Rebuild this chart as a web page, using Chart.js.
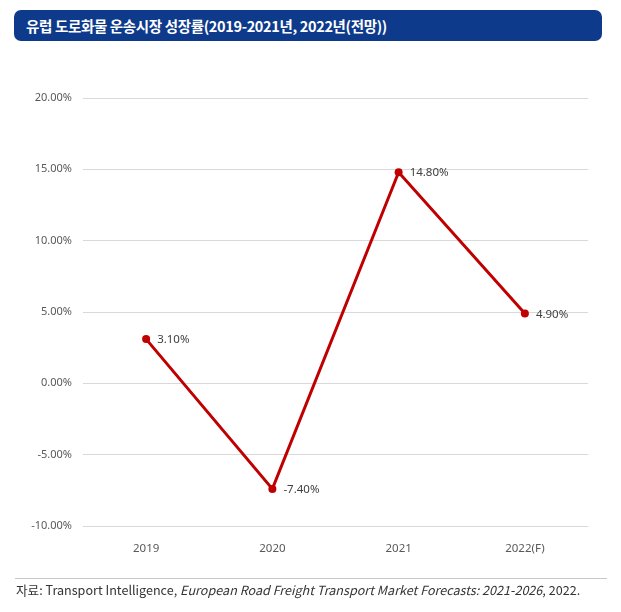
<!DOCTYPE html>
<html>
<head>
<meta charset="utf-8">
<script src="https://cdn.jsdelivr.net/npm/chart.js@4.4.1/dist/chart.umd.min.js"></script>
<style>
  html, body { margin: 0; padding: 0; background: #fff; }
  body { width: 621px; height: 612px; position: relative; overflow: hidden; }
  #title {
    position: absolute; left: 14px; top: 10px; width: 588px; height: 31px;
    background: #0e3a8c; border-radius: 7px; color: #fff;
    font-family: "Noto Sans CJK KR", sans-serif; font-size: 14.5px; font-weight: 700;
    line-height: 31px; padding-left: 12px; box-sizing: border-box; letter-spacing: -0.35px;
  }
  #wrap { position: absolute; left: 0; top: 0; width: 621px; height: 612px; }
  #rule { position: absolute; left: 15px; top: 578px; width: 592px; height: 1px; background: #c8c8c8; }
  #src {
    position: absolute; left: 16px; top: 580px; font-size: 12.6px; color: #333;
    font-family: "Noto Sans CJK KR", sans-serif; white-space: nowrap; letter-spacing: 0px;
  }
</style>
</head>
<body>
<div id="wrap"><canvas id="c"></canvas></div>
<div id="title">유럽 도로화물 운송시장 성장률(2019-2021년, 2022년(전망))</div>
<div id="rule"></div>
<div id="src">자료: Transport Intelligence, <i>European Road Freight Transport Market Forecasts: 2021-2026</i>, 2022.</div>
<script>
const categories = ["2019", "2020", "2021", "2022(F)"];
const growthRates = [3.10, -7.40, 14.80, 4.90];
const yTicks = [-10, -5, 0, 5, 10, 15, 20];

const fam = '"Noto Sans", sans-serif';

const labelPlugin = {
  id: 'pointLabels',
  afterDatasetsDraw(chart) {
    const ctx = chart.ctx;
    const meta = chart.getDatasetMeta(0);
    ctx.save();
    ctx.font = '11.5px ' + fam;
    ctx.fillStyle = '#404040';
    ctx.textAlign = 'left';
    ctx.textBaseline = 'middle';
    meta.data.forEach((pt, i) => {
      ctx.fillText(growthRates[i].toFixed(2) + '%', pt.x + 11, pt.y + 1);
    });
    ctx.restore();
  }
};

new Chart(document.getElementById('c'), {
  type: 'line',
  data: {
    labels: categories,
    datasets: [{
      data: growthRates,
      borderColor: '#c00000',
      backgroundColor: '#c00000',
      borderWidth: 3,
      pointRadius: 4,
      pointBackgroundColor: '#c00000',
      pointBorderWidth: 0,
      tension: 0
    }]
  },
  options: {
    responsive: true,
    maintainAspectRatio: false,
    animation: false,
    layout: { padding: { left: 0, right: 33, top: 98, bottom: 46 } },
    plugins: { legend: { display: false }, tooltip: { enabled: false } },
    scales: {
      x: {
        offset: true,
        grid: { display: false, drawTicks: false },
        border: { display: false },
        ticks: { color: '#595959', font: { family: fam, size: 11.5 }, padding: 16 },
        afterFit(s) { s.height = 40; }
      },
      y: {
        min: -10, max: 20,
        afterBuildTicks(s) { s.ticks = yTicks.map(v => ({ value: v })); },
        grid: { color: '#d9d9d9', lineWidth: 1, drawTicks: false },
        border: { display: false },
        ticks: {
          color: '#595959', font: { family: fam, size: 11 }, padding: 11,
          callback: v => v.toFixed(2) + '%'
        },
        afterFit(s) { s.width = 83; }
      }
    }
  },
  plugins: [labelPlugin]
});
</script>
</body>
</html>
